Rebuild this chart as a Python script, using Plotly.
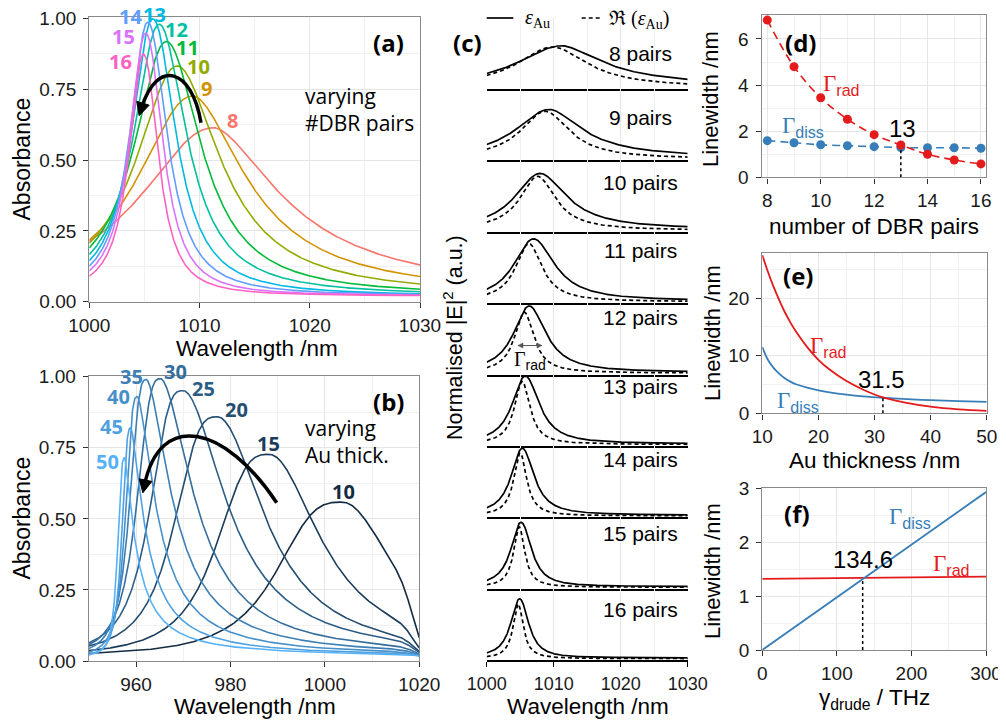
import numpy as np
import plotly.graph_objects as go

# the page body adds an 8 px margin; the figure is sized and positioned to compensate
OFF = 8
WF, HF = 998, 713

# ---------------- panel (a): absorbance, varying number of DBR pairs ----------------
a_pairs = [8, 9, 10, 11, 12, 13, 14, 15, 16]
a_colors = ["#F8766D", "#D39200", "#93AA00", "#00BA38", "#00C19F",
            "#00B9E3", "#619CFF", "#DB72FB", "#FF61C3"]
a_peak_wl = [1011.3, 1009.4, 1008.0, 1007.0, 1006.35, 1005.75, 1005.3, 1005.1, 1004.9]
a_peak_abs = [0.614, 0.726, 0.832, 0.918, 0.979, 0.998, 0.986, 0.947, 0.873]
a_hw_left = [8.0, 6.0, 4.5, 3.5, 2.8, 2.3, 1.95, 1.75, 1.55]
a_hw_right = [7.8, 6.0, 4.8, 3.8, 3.0, 2.5, 2.1, 1.85, 1.6]
a_q_left = [2.1, 2.1, 2.1, 2.1, 2.1, 2.1, 2.1, 2.1, 2.1]
a_q_right = [1.7, 1.8, 1.9, 2.0, 2.0, 2.1, 2.1, 2.2, 2.2]
a_floor = 0.02
a_label_wl = [1012.97, 1010.64, 1009.89, 1008.92, 1007.92, 1005.96, 1003.78, 1003.08, 1002.84]
a_label_abs = [0.639, 0.753, 0.829, 0.898, 0.959, 1.012, 1.006, 0.935, 0.849]

# ---------------- panel (b): absorbance, varying Au thickness ----------------
b_thick = [10, 15, 20, 25, 30, 35, 40, 45, 50]
b_colors = ["#132B43", "#1B3C5A", "#244D70", "#2C5D87", "#356E9D",
            "#3D7FB4", "#4590CA", "#4EA0E1", "#56B1F7"]
b_peak_wl = [1003.7, 988.2, 977.2, 970.0, 965.2, 962.2, 960.3, 958.9, 957.6]
b_peak_abs = [0.559, 0.727, 0.859, 0.951, 0.993, 0.990, 0.930, 0.820, 0.715]
b_hw_left = [15.0, 12.0, 9.8, 7.6, 5.4, 3.8, 2.7, 2.0, 1.6]
b_hw_right = [13.5, 13.0, 12.0, 11.0, 8.5, 6.5, 4.8, 3.6, 2.8]
b_q_left = [3.0, 3.0, 3.0, 3.0, 3.0, 3.0, 3.0, 3.0, 3.0]
b_q_right = [2.0, 2.0, 2.0, 1.9, 1.8, 1.7, 1.6, 1.5, 1.4]
b_floor = 0.015
b_edge_wl = 1019.0
b_edge_w = 1.2
b_label_wl = [1003.9, 988.0, 981.2, 974.3, 968.3, 959.1, 956.3, 954.9, 953.9]
b_label_abs = [0.596, 0.766, 0.883, 0.957, 1.018, 1.002, 0.930, 0.824, 0.703]

# ---------------- panel (c): normalised |E|^2 per number of pairs ----------------
c_pairs = [8, 9, 10, 11, 12, 13, 14, 15, 16]
c_dash_wl = [1009.8, 1008.7, 1007.6, 1006.3, 1005.6, 1005.3, 1005.0, 1004.85, 1004.7]
c_dash_peak = [0.595, 0.70, 0.79, 0.85, 0.89, 0.92, 0.92, 0.88, 0.80]
c_dash_hw = [6.4, 4.4, 3.2, 2.4, 1.75, 1.4, 1.15, 1.0, 0.9]
c_dash_floor = 0.01
c_label_wl = 1023.0
c_label_y = [0.505, 0.606, 0.70, 0.75, 0.808, 0.841, 0.823, 0.784, 0.722]
c_arrow_wl = [1004.67, 1008.25]
c_arrow_y = 0.408

# ---------------- panel (d): linewidth vs pairs ----------------
d_pairs = [8, 9, 10, 11, 12, 13, 14, 15, 16]
d_rad = [6.82, 4.80, 3.45, 2.52, 1.85, 1.40, 1.00, 0.75, 0.58]
d_diss = [1.59, 1.50, 1.41, 1.37, 1.33, 1.29, 1.28, 1.28, 1.26]
d_cross = [13.0, 1.30]

# ---------------- panel (e): linewidth vs Au thickness ----------------
e_thick = [10, 11, 12, 13, 14, 15, 16, 18, 20, 22, 25, 28, 31.5, 35, 40, 45, 50]
e_rad = [27.5, 24.6, 22.0, 19.7, 17.6, 15.8, 14.2, 11.5, 9.3, 7.6, 5.6, 4.1, 2.75, 1.95, 1.15, 0.68, 0.42]
e_diss = [11.5, 9.3, 7.9, 6.9, 6.1, 5.5, 5.05, 4.45, 4.0, 3.65, 3.25, 2.95, 2.7, 2.5, 2.28, 2.12, 2.0]
e_cross = [31.5, 2.7]

# ---------------- panel (f): linewidth vs drude damping ----------------
f_gamma = [0, 300]
f_diss = [0.0, 2.93]
f_rad = [1.32, 1.36]
f_cross = [134.6, 1.325]

RED = "#E41A1C"
BLUE = "#377EB8"
SANS = "Liberation Sans, Arial, sans-serif"
OPEN = "Open Sans, sans-serif"
SERIF = "Liberation Serif"
GRID = "#E6E6E6"
GRID_MINOR = "#F1F1F1"
FRAME = "#8A8A8A"

# plot-area boxes in page pixels (left, right, top, bottom)
BOX_A = (89.3, 420.0, 17.3, 301.7)
BOX_B = (88.8, 419.3, 375.7, 661.0)
BOX_D = (761.7, 986.0, 15.0, 177.3)
BOX_E = (762.3, 986.7, 253.3, 413.3)
BOX_F = (762.3, 986.0, 488.3, 650.0)
RANGE_A = ([1000, 1030], [0, 1.0035])
RANGE_B = ([950, 1020], [0, 1.0035])
C_LEFT, C_RIGHT, C_TOP0, C_STEP = 486.7, 687.7, 17.625, 71.375
C_YR = [-0.01, 1.02]


def curve(x, c, a, wl, wr, ql, qr, floor):
    x = np.asarray(x, dtype=float)
    left = x < c
    u = np.where(left, (c - x) / wl, (x - c) / wr)
    q = np.where(left, ql, qr)
    return floor + (a - floor) / (1.0 + u ** q)


def px(v):
    return (v - OFF) / WF


def py(v):
    return 1 - (v - OFF) / HF


def to_data(box, rng, pxx, pyy):
    l, r, t, b = box
    xr, yr = rng
    x = xr[0] + (pxx - l) / (r - l) * (xr[1] - xr[0])
    y = yr[0] + (b - pyy) / (b - t) * (yr[1] - yr[0])
    return x, y


def to_paper(box, rng, x, y):
    l, r, t, b = box
    xr, yr = rng
    pxx = l + (x - xr[0]) / (xr[1] - xr[0]) * (r - l)
    pyy = b - (y - yr[0]) / (yr[1] - yr[0]) * (b - t)
    return px(pxx), py(pyy)


fig = go.Figure()

# ---- (a)
xa = np.linspace(1000, 1030, 901)
for i in range(len(a_pairs)):
    ya = curve(xa, a_peak_wl[i], a_peak_abs[i], a_hw_left[i], a_hw_right[i],
               a_q_left[i], a_q_right[i], a_floor)
    fig.add_trace(go.Scatter(x=xa, y=ya, mode="lines", xaxis="x", yaxis="y",
                             line=dict(color=a_colors[i], width=1.6),
                             showlegend=False, hoverinfo="skip"))

# ---- (b)
xb = np.linspace(950, 1020, 1001)
edge = 1.0 / (1.0 + np.exp((xb - b_edge_wl) / b_edge_w))
for i in range(len(b_thick)):
    core = curve(xb, b_peak_wl[i], b_peak_abs[i], b_hw_left[i], b_hw_right[i],
                 b_q_left[i], b_q_right[i], 0.0)
    yb = b_floor + core * edge * (1 - b_floor / b_peak_abs[i])
    fig.add_trace(go.Scatter(x=xb, y=yb, mode="lines", xaxis="x2", yaxis="y2",
                             line=dict(color=b_colors[i], width=1.6),
                             showlegend=False, hoverinfo="skip"))

# ---- (c)
xc = np.linspace(1000, 1030, 901)
for k in range(len(c_pairs)):
    n = 3 + k
    ys = curve(xc, a_peak_wl[k], a_peak_abs[k], a_hw_left[k], a_hw_right[k],
               a_q_left[k], a_q_right[k], a_floor)
    yd = curve(xc, c_dash_wl[k], c_dash_peak[k], c_dash_hw[k], c_dash_hw[k],
               2.0, 2.0, c_dash_floor)
    fig.add_trace(go.Scatter(x=xc, y=yd, mode="lines", xaxis=f"x{n}", yaxis=f"y{n}",
                             line=dict(color="black", width=1.7, dash="4px,3px"),
                             showlegend=False, hoverinfo="skip"))
    fig.add_trace(go.Scatter(x=xc, y=ys, mode="lines", xaxis=f"x{n}", yaxis=f"y{n}",
                             line=dict(color="black", width=1.7),
                             showlegend=False, hoverinfo="skip"))

# ---- (d)
fig.add_trace(go.Scatter(x=d_pairs, y=d_diss, mode="lines+markers", xaxis="x12", yaxis="y12",
                         line=dict(color=BLUE, width=1.6, dash="8px,5px", shape="spline"),
                         marker=dict(color=BLUE, size=9), showlegend=False, hoverinfo="skip"))
fig.add_trace(go.Scatter(x=d_pairs, y=d_rad, mode="lines+markers", xaxis="x12", yaxis="y12",
                         line=dict(color=RED, width=1.6, dash="8px,5px", shape="spline"),
                         marker=dict(color=RED, size=9), showlegend=False, hoverinfo="skip"))

# ---- (e)
fig.add_trace(go.Scatter(x=e_thick, y=e_diss, mode="lines", xaxis="x13", yaxis="y13",
                         line=dict(color=BLUE, width=1.8, shape="spline"),
                         showlegend=False, hoverinfo="skip"))
fig.add_trace(go.Scatter(x=e_thick, y=e_rad, mode="lines", xaxis="x13", yaxis="y13",
                         line=dict(color=RED, width=1.8, shape="spline"),
                         showlegend=False, hoverinfo="skip"))

# ---- (f)
fig.add_trace(go.Scatter(x=f_gamma, y=f_rad, mode="lines", xaxis="x14", yaxis="y14",
                         line=dict(color=RED, width=1.8), showlegend=False, hoverinfo="skip"))
fig.add_trace(go.Scatter(x=f_gamma, y=f_diss, mode="lines", xaxis="x14", yaxis="y14",
                         line=dict(color=BLUE, width=1.8), showlegend=False, hoverinfo="skip"))

TICKFONT = dict(family=SANS, size=19, color="#1a1a1a")


def framed_axes(box, xr, yr, xt0, xdt, xmt0, xmdt, yt0, ydt, ymt0, ymdt, anchor_x, anchor_y, yfmt=None):
    l, r, t, b = box
    xa_ = dict(domain=[px(l), px(r)], range=xr, anchor=anchor_y, automargin=False,
               showline=True, mirror=True, linecolor=FRAME, linewidth=1.4,
               ticks="outside", ticklen=5, tickwidth=1.3, tickcolor="#333333",
               tick0=xt0, dtick=xdt, tickfont=TICKFONT, ticklabelstandoff=1,
               ticklabeloverflow="allow",
               showgrid=True, gridcolor=GRID, gridwidth=1.1, zeroline=False,
               minor=dict(tick0=xmt0, dtick=xmdt, showgrid=True, gridcolor=GRID_MINOR, gridwidth=0.8))
    ya_ = dict(domain=[py(b), py(t)], range=yr, anchor=anchor_x, automargin=False,
               showline=True, mirror=True, linecolor=FRAME, linewidth=1.4,
               ticks="outside", ticklen=5, tickwidth=1.3, tickcolor="#333333",
               tick0=yt0, dtick=ydt, tickfont=TICKFONT, ticklabelstandoff=3,
               ticklabeloverflow="allow",
               showgrid=True, gridcolor=GRID, gridwidth=1.1, zeroline=False,
               minor=dict(tick0=ymt0, dtick=ymdt, showgrid=True, gridcolor=GRID_MINOR, gridwidth=0.8))
    if yfmt:
        ya_["tickformat"] = yfmt
    return xa_, ya_


layout = dict(width=WF, height=HF, autosize=False,
              margin=dict(l=0, r=0, t=0, b=0, pad=0, autoexpand=False),
              paper_bgcolor="white", plot_bgcolor="white", showlegend=False)

ax, ay = framed_axes(BOX_A, RANGE_A[0], RANGE_A[1], 1000, 10, 1000, 5, 0, 0.25, 0, 0.125, "x", "y", ".2f")
layout["xaxis"], layout["yaxis"] = ax, ay
ax, ay = framed_axes(BOX_B, RANGE_B[0], RANGE_B[1], 960, 20, 950, 10, 0, 0.25, 0, 0.125, "x2", "y2", ".2f")
layout["xaxis2"], layout["yaxis2"] = ax, ay
ax, ay = framed_axes(BOX_D, [7.79, 16.19], [0, 7.04], 8, 2, 8, 1, 0, 2, 0, 1, "x12", "y12")
layout["xaxis12"], layout["yaxis12"] = ax, ay
ax, ay = framed_axes(BOX_E, [10, 50], [0, 27.8], 10, 10, 10, 5, 0, 10, 0, 5, "x13", "y13")
layout["xaxis13"], layout["yaxis13"] = ax, ay
ax, ay = framed_axes(BOX_F, [0, 300], [0, 3], 0, 100, 0, 50, 0, 1, 0, 0.5, "x14", "y14")
layout["xaxis14"], layout["yaxis14"] = ax, ay

# facets of (c)
for k in range(len(c_pairs)):
    n = 3 + k
    top = C_TOP0 + k * C_STEP
    bottom = top + C_STEP
    last = k == len(c_pairs) - 1
    layout[f"xaxis{n}"] = dict(domain=[px(C_LEFT), px(C_RIGHT)], range=[1000, 1030], anchor=f"y{n}",
                               automargin=False,
                               showline=True, linecolor="black", linewidth=1.8,
                               tick0=1000, dtick=10, showgrid=True, gridcolor=GRID, gridwidth=1.1,
                               minor=dict(tick0=1000, dtick=5, showgrid=True, gridcolor=GRID_MINOR, gridwidth=0.8),
                               zeroline=False, showticklabels=last, ticklabeloverflow="allow",
                               ticks="outside" if last else "", ticklen=5, tickwidth=1.3, tickcolor="black",
                               tickfont=dict(family=SANS, size=18, color="#1a1a1a"), ticklabelstandoff=1)
    layout[f"yaxis{n}"] = dict(domain=[py(bottom), py(top)], range=C_YR, anchor=f"x{n}",
                               automargin=False, visible=False, showgrid=False, zeroline=False)

ann = []


def txt(x, y, s, size, color="black", family=SANS, xref="paper", yref="paper",
        xanchor="center", yanchor="middle", angle=0, align="center"):
    ann.append(dict(x=x, y=y, xref=xref, yref=yref, text=s, showarrow=False,
                    font=dict(size=size, color=color, family=family),
                    xanchor=xanchor, yanchor=yanchor, textangle=angle, align=align))


def gamma(sub):
    return f'<span style="font-family:{SERIF}">Γ</span><sub>{sub}</sub>'


# axis titles
txt(px(21), py(159.5), "Absorbance", 23, angle=-90)
txt(px(257), py(348), "Wavelength /nm", 22.5)
txt(px(21), py(518.5), "Absorbance", 23, angle=-90)
txt(px(255), py(706), "Wavelength /nm", 22.5)
txt(px(453), py(338), "Normalised |E|<sup>2</sup> (a.u.)", 21.5, angle=-90)
txt(px(588), py(706), "Wavelength /nm", 22.5)
txt(px(711), py(99), "Linewidth /nm", 22, angle=-90)
txt(px(874), py(226), "number of DBR pairs", 22.5)
txt(px(712), py(333), "Linewidth /nm", 22, angle=-90)
txt(px(874), py(460), "Au thickness /nm", 22.5)
txt(px(712), py(571), "Linewidth /nm", 22, angle=-90)
txt(px(874), py(699), "γ<sub>drude</sub> / THz", 22.5)

# panel letters
txt(px(388), py(43), "<b>(a)</b>", 24, family=OPEN)
txt(px(388), py(401), "<b>(b)</b>", 24, family=OPEN)
txt(px(467), py(43), "<b>(c)</b>", 24, family=OPEN)
txt(px(800), py(43), "<b>(d)</b>", 24, family=OPEN)
txt(px(798), py(275), "<b>(e)</b>", 24, family=OPEN)
txt(px(797), py(513), "<b>(f)</b>", 24, family=OPEN)

# descriptive text
txt(px(303), py(109), "varying<br>#DBR pairs", 21, family=OPEN, xanchor="left", align="left")
txt(px(303), py(441), "varying<br>Au thick.", 21, family=OPEN, xanchor="left", align="left")

# curve labels (placed in paper coordinates so labels above the frame stay visible)
for i in range(len(a_pairs)):
    lx, ly = to_paper(BOX_A, RANGE_A, a_label_wl[i], a_label_abs[i])
    txt(lx, ly, f"<b>{a_pairs[i]}</b>", 20, color=a_colors[i], family=OPEN)
for i in range(len(b_thick)):
    lx, ly = to_paper(BOX_B, RANGE_B, b_label_wl[i], b_label_abs[i])
    txt(lx, ly, f"<b>{b_thick[i]}</b>", 20, color=b_colors[i], family=OPEN)

# facet labels (c)
for k in range(len(c_pairs)):
    n = 3 + k
    txt(c_label_wl, c_label_y[k], f"{c_pairs[k]} pairs", 21, xref=f"x{n}", yref=f"y{n}")
txt(1006.46, 0.19, gamma("rad"), 20, xref="x7", yref="y7")

# legend of (c)
txt(px(523), py(19), '<i>ε</i><sub>Au</sub>', 20, family=SERIF, xanchor="left")
txt(px(607), py(19), '<span style="font-family:DejaVu Serif">ℜ</span> (<i>ε</i><sub>Au</sub>)', 20,
    family=SERIF, xanchor="left")

# labels (d), (e), (f)
txt(10.79, 4.0, gamma("rad"), 23, color=RED, xref="x12", yref="y12")
txt(9.35, 2.2, gamma("diss"), 23, color=BLUE, xref="x12", yref="y12")
txt(13.06, 2.13, "13", 24, xref="x12", yref="y12")
txt(21.77, 11.6, gamma("rad"), 23, color=RED, xref="x13", yref="y13")
txt(16.4, 2.0, gamma("diss"), 23, color=BLUE, xref="x13", yref="y13")
txt(31.28, 5.79, "31.5", 24, xref="x13", yref="y13")
txt(198, 2.44, gamma("diss"), 23, color=BLUE, xref="x14", yref="y14")
txt(254, 1.58, gamma("rad"), 23, color=RED, xref="x14", yref="y14")
txt(135.4, 1.67, "134.6", 24, xref="x14", yref="y14")

shapes = []


def path_from_px(box, rng, pts, closed=False):
    parts = []
    for j, (a_, b_) in enumerate(pts):
        x, y = to_data(box, rng, a_, b_)
        parts.append(("M " if j == 0 else "L ") + f"{x:.4f},{y:.5f}")
    return " ".join(parts) + (" Z" if closed else "")


def bezier_from_px(box, rng, p0, c1, c2, p3):
    q = [to_data(box, rng, *p) for p in (p0, c1, c2, p3)]
    return (f"M {q[0][0]:.4f},{q[0][1]:.5f} C {q[1][0]:.4f},{q[1][1]:.5f} "
            f"{q[2][0]:.4f},{q[2][1]:.5f} {q[3][0]:.4f},{q[3][1]:.5f}")


def head_px(tip, direction, length=12, half=6):
    dx, dy = direction
    nrm = (dx * dx + dy * dy) ** 0.5
    dx, dy = dx / nrm, dy / nrm
    bx, by = tip[0] - dx * length, tip[1] - dy * length
    return [tip, (bx - dy * half, by + dx * half), (bx + dy * half, by - dx * half)]


# curved arrows (a) and (b), geometry in page pixels
A_ARROW = [(201.0, 122.7), (192.0, 68.0), (157.0, 58.0), (141.5, 108.0)]
B_ARROW = [(276.7, 502.7), (225.0, 425.0), (160.0, 410.0), (144.5, 485.0)]
for box, rng, ref, pts in ((BOX_A, RANGE_A, ("x", "y"), A_ARROW), (BOX_B, RANGE_B, ("x2", "y2"), B_ARROW)):
    shapes.append(dict(type="path", xref=ref[0], yref=ref[1],
                       path=bezier_from_px(box, rng, *pts),
                       line=dict(color="black", width=3.5)))
    d = (pts[3][0] - pts[2][0], pts[3][1] - pts[2][1])
    nrm = (d[0] ** 2 + d[1] ** 2) ** 0.5
    tip = (pts[3][0] + d[0] / nrm * 8, pts[3][1] + d[1] / nrm * 8)
    shapes.append(dict(type="path", xref=ref[0], yref=ref[1],
                       path=path_from_px(box, rng, head_px(tip, d, 13, 6.5), closed=True),
                       fillcolor="black", line=dict(color="black", width=1)))

# double arrow for Gamma_rad in the 12-pairs facet
k12 = c_pairs.index(12)
box12 = (C_LEFT, C_RIGHT, C_TOP0 + k12 * C_STEP, C_TOP0 + (k12 + 1) * C_STEP)
rng12 = ([1000, 1030], C_YR)
shapes.append(dict(type="line", xref="x7", yref="y7", x0=c_arrow_wl[0], x1=c_arrow_wl[1],
                   y0=c_arrow_y, y1=c_arrow_y, line=dict(color="#555555", width=1)))
l12, r12, t12, b12 = box12
ypx12 = b12 - (c_arrow_y - C_YR[0]) / (C_YR[1] - C_YR[0]) * (b12 - t12)
for wl, sgn in ((c_arrow_wl[0], -1), (c_arrow_wl[1], 1)):
    xpx = l12 + (wl - 1000) / 30 * (r12 - l12)
    shapes.append(dict(type="path", xref="x7", yref="y7",
                       path=path_from_px(box12, rng12, head_px((xpx, ypx12), (sgn, 0), 5, 2.5), closed=True),
                       fillcolor="#555555", line=dict(color="#555555", width=0.5)))

# dotted crossing markers
for (xr_, yr_, c) in (("x12", "y12", d_cross), ("x13", "y13", e_cross), ("x14", "y14", f_cross)):
    shapes.append(dict(type="line", xref=xr_, yref=yr_, x0=c[0], x1=c[0], y0=0, y1=c[1],
                       line=dict(color="black", width=1.5, dash="dot")))
# legend line samples (c)
shapes.append(dict(type="line", xref="paper", yref="paper", x0=px(486.7), x1=px(513.3),
                   y0=py(18), y1=py(18), line=dict(color="black", width=1.7)))
shapes.append(dict(type="line", xref="paper", yref="paper", x0=px(581.7), x1=px(601.7),
                   y0=py(18), y1=py(18), line=dict(color="black", width=1.7, dash="4px,3px")))

layout["annotations"] = ann
layout["shapes"] = shapes
fig.update_layout(**layout)
fig.write_html("out.html")
